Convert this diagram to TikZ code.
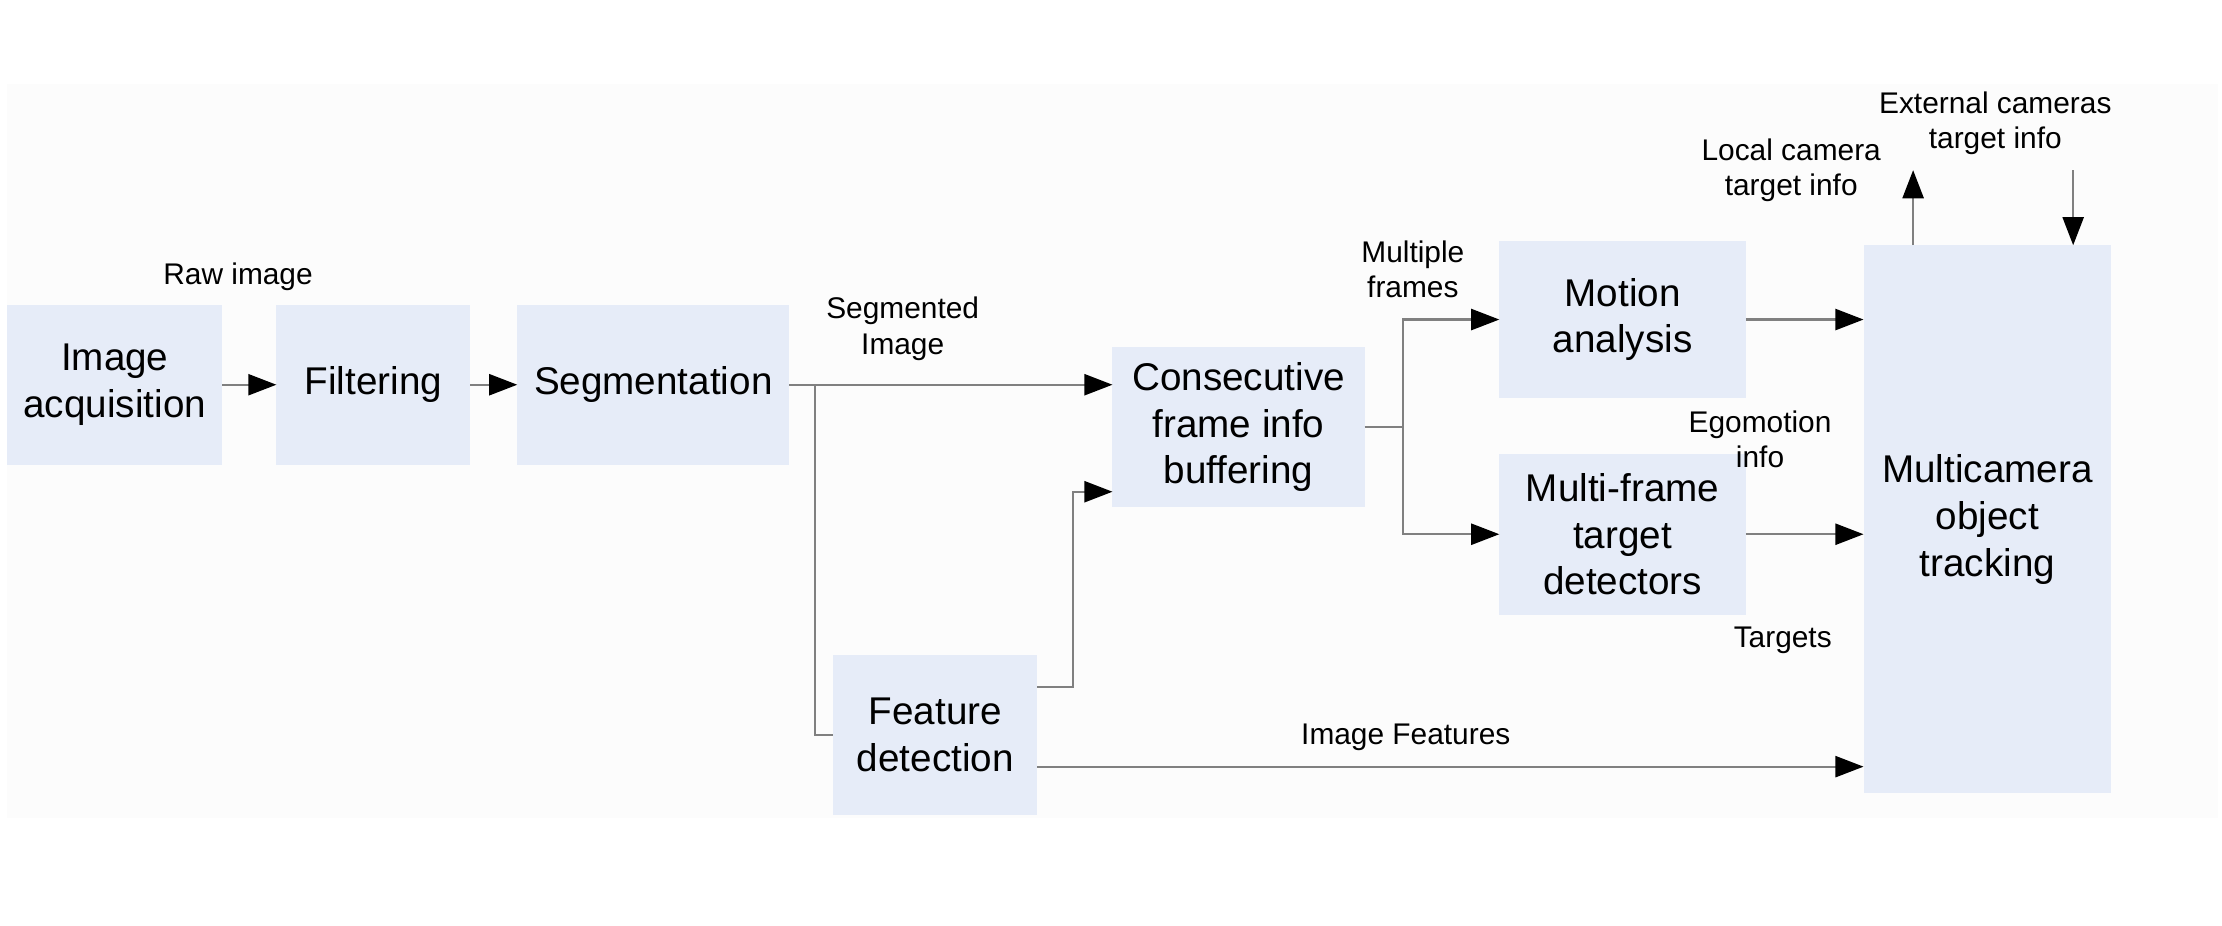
\documentclass[tikz,border=0pt]{standalone}
\usepackage{fontspec}
\setmainfont{Liberation Sans}
\usetikzlibrary{arrows.meta,positioning}

\definecolor{boxblue}{RGB}{230,236,248}
\definecolor{linegray}{RGB}{128,128,128}

\begin{document}
\begin{tikzpicture}[x=0.01417cm, y=-0.01417cm,
    nodes = {font=\fontsize{11}{13.3}\selectfont},
    block/.style = {fill=boxblue, draw=none, align=center, inner sep=0pt,
                    outer sep=0pt, minimum height=1.601cm},
    lbl/.style = {align=center, inner sep=1pt,
                  font=\fontsize{8.5}{10}\selectfont},
    line/.style = {draw=linegray, line width=0.6pt},
    arrow/.style = {line, -{Triangle[length=8pt,width=6pt,color=black]}}]

  % canvas and faint backdrop
  \useasboundingbox (0,0) rectangle (1568,653);
  \fill[black!1] (5,59) rectangle (1565,577);

  % processing blocks
  \node[block, minimum width=2.154cm] (acq)    at (81,271.5)    {Image\\acquisition};
  \node[block, minimum width=1.941cm] (filt)   at (263.5,271.5) {Filtering};
  \node[block, minimum width=2.721cm] (seg)    at (461,271.5)   {Segmentation};
  \node[block, minimum width=2.522cm] (cons)   at (874,301.5)   {Consecutive\\frame info\\buffering};
  \node[block, minimum width=2.040cm] (feat)   at (660,518.5)   {Feature\\detection};
  \node[block, minimum width=2.466cm, minimum height=1.573cm]
                                      (motion) at (1145,225.5)  {Motion\\analysis};
  \node[block, minimum width=2.466cm, minimum height=1.615cm]
                                      (mfd)    at (1145,377)    {Multi-frame\\target\\detectors};
  \node[block, minimum width=2.480cm, minimum height=5.484cm]
                                      (mct)    at (1402.5,366.5) {Multicamera\\object\\tracking};

  % signal labels
  \node[lbl] (lraw)   at (168,195)  {Raw image};
  \node[lbl] (lseg)   at (637,232)  {Segmented\\Image};
  \node[lbl] (lmulti) at (997,190)  {Multiple\\frames};
  \node[lbl] (lego)   at (1242,310) {Egomotion\\info};
  \node[lbl] (ltarg)  at (1258,452) {Targets};
  \node[lbl] (lfeat)  at (992,520)  {Image Features};
  \node[lbl] (lloc)   at (1264,120) {Local camera\\target info};
  \node[lbl] (lext)   at (1408,87)  {External cameras\\target info};

  % front end chain
  \draw[arrow] (acq.east) -- (filt.west);
  \draw[arrow] (filt.east) -- (seg.west);
  \draw[line]  (seg.east) -- ++(18,0) coordinate (sj);
  \draw[arrow] (sj) -- (sj -| cons.west);
  \draw[line]  (sj) |- (feat.west);
  \draw[arrow] ([yshift=0.475cm]feat.east) -- ++(25,0) |- ([yshift=-0.645cm]cons.west);

  % split after buffering
  \draw[line]  (cons.east) -- ++(27,0) coordinate (cj);
  \draw[arrow] (cj) |- (motion.west);
  \draw[arrow] (cj) |- (mfd.west);

  % into the tracker
  \draw[arrow] (motion.east) -- (motion.east -| mct.west);
  \draw[arrow] (mfd.east) -- (mfd.east -| mct.west);
  \draw[arrow] ([yshift=-0.319cm]feat.east) -- ([yshift=-0.319cm]feat.east -| mct.west);

  % camera exchange
  \coordinate (locout) at ([xshift=-0.744cm,yshift=0.751cm]mct.north);
  \coordinate (extin)  at ([xshift=0.857cm,yshift=0.751cm]mct.north);
  \draw[arrow] (locout |- mct.north) -- (locout);
  \draw[arrow] (extin) -- (extin |- mct.north);
\end{tikzpicture}
\end{document}
